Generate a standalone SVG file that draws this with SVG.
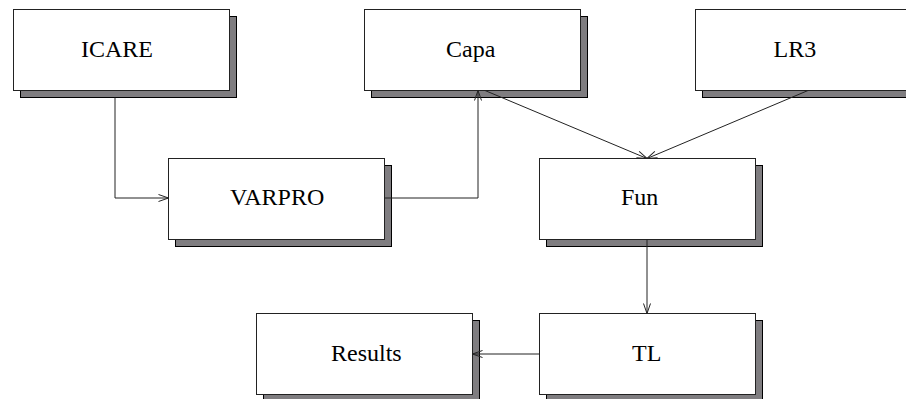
<svg xmlns="http://www.w3.org/2000/svg" width="906" height="399" viewBox="0 0 906 399">
<defs>
<style>
.sh{fill:#7f7d80;stroke:#000;stroke-width:1}
.bx{fill:#fff;stroke:#222;stroke-width:1}
.lb{font-family:"Liberation Serif","Times New Roman",serif;font-size:24px;fill:#000}
.cn{fill:none;stroke:#222;stroke-width:1}
</style>
<marker id="ah" markerWidth="12" markerHeight="8" refX="11" refY="4" orient="auto" markerUnits="userSpaceOnUse">
<path d="M1,0.5 L11,4 L1,7.5" fill="none" stroke="#222" stroke-width="1"/>
</marker>
</defs>
<rect width="906" height="399" fill="#fff"/>
<g id="ICARE">
<rect class="sh" x="20.5" y="16.5" width="216" height="81"/>
<rect class="bx" x="13.5" y="9.5" width="216" height="81"/>
<text class="lb" x="81" y="57">ICARE</text>
</g>
<g id="Capa">
<rect class="sh" x="371.5" y="16.5" width="216" height="81"/>
<rect class="bx" x="364.5" y="9.5" width="216" height="81"/>
<text class="lb" x="446" y="57">Capa</text>
</g>
<g id="LR3">
<rect class="sh" x="702.5" y="16.5" width="216" height="81"/>
<rect class="bx" x="695.5" y="9.5" width="216" height="81"/>
<text class="lb" x="773.5" y="57">LR3</text>
</g>
<g id="VARPRO">
<rect class="sh" x="175.5" y="165.5" width="216" height="81"/>
<rect class="bx" x="168.5" y="158.5" width="216" height="81"/>
<text class="lb" x="230" y="205">VARPRO</text>
</g>
<g id="Fun">
<rect class="sh" x="546.5" y="165.5" width="216" height="81"/>
<rect class="bx" x="539.5" y="158.5" width="216" height="81"/>
<text class="lb" x="621" y="205">Fun</text>
</g>
<g id="Results">
<rect class="sh" x="263.5" y="320.5" width="216" height="81"/>
<rect class="bx" x="256.5" y="313.5" width="216" height="81"/>
<text class="lb" x="331" y="361">Results</text>
</g>
<g id="TL">
<rect class="sh" x="546.5" y="320.5" width="216" height="81"/>
<rect class="bx" x="539.5" y="313.5" width="216" height="81"/>
<text class="lb" x="632" y="361">TL</text>
</g>
<g id="connectors">
<path class="cn" d="M115,97.5 V198 H168.5" marker-end="url(#ah)"/>
<path class="cn" d="M384.5,198 H478 V90.5" marker-end="url(#ah)"/>
<path class="cn" d="M485,90.5 L647,158.5" marker-end="url(#ah)"/>
<path class="cn" d="M808,90.5 L647,158.5" marker-end="url(#ah)"/>
<path class="cn" d="M647,239.5 V313.5" marker-end="url(#ah)"/>
<path class="cn" d="M539.5,354 H472.5" marker-end="url(#ah)"/>
</g>
</svg>
